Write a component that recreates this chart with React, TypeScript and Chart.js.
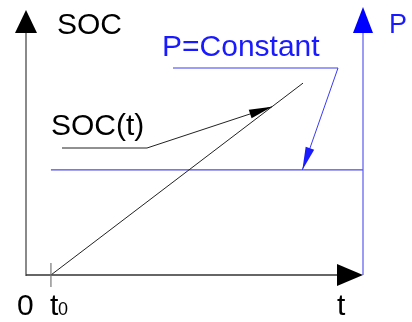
import React, { useEffect, useRef } from "react";
import { Chart, registerables } from "chart.js";

Chart.register(...registerables);

// Data (axis units 0..100)
const t0 = 7.4;
const socTime = [7.4, 82.2];
const socValues = [0, 71.6];
const powerTime = [7.4, 100];
const powerValues = [39.2, 39.2];
const socArrowTime = 73.0; // where SOC(t) label arrow points
const powerArrowTime = 82.0; // where P=Constant arrow points

const FONT = '"Liberation Sans", Arial, sans-serif';
const BLUE = "#1a1aff";

function arrowHead(ctx: CanvasRenderingContext2D, fx: number, fy: number, tx: number, ty: number, len: number, half: number, color: string) {
  const ang = Math.atan2(ty - fy, tx - fx);
  const bx = tx - len * Math.cos(ang);
  const by = ty - len * Math.sin(ang);
  const nx = -Math.sin(ang) * half;
  const ny = Math.cos(ang) * half;
  ctx.fillStyle = color;
  ctx.beginPath();
  ctx.moveTo(tx, ty);
  ctx.lineTo(bx + nx, by + ny);
  ctx.lineTo(bx - nx, by - ny);
  ctx.closePath();
  ctx.fill();
}

const annotate = {
  id: "annotate",
  afterDatasetsDraw(chart: any) {
    const ctx: CanvasRenderingContext2D = chart.ctx;
    const { left, right, top, bottom } = chart.chartArea;
    const xs = chart.scales.x;
    const ys = chart.scales.y;
    const y1 = chart.scales.y1;
    ctx.save();
    ctx.lineCap = "butt";

    // left axis (SOC)
    ctx.strokeStyle = "#8a8a8a";
    ctx.lineWidth = 2;
    ctx.beginPath();
    ctx.moveTo(left, bottom + 1);
    ctx.lineTo(left, top + 20);
    ctx.stroke();
    ctx.fillStyle = "#000";
    ctx.beginPath();
    ctx.moveTo(left, top + 3);
    ctx.lineTo(left - 11, top + 26);
    ctx.lineTo(left + 11, top + 26);
    ctx.closePath();
    ctx.fill();

    // right axis (P)
    ctx.strokeStyle = "#5a5af0";
    ctx.lineWidth = 1.2;
    ctx.beginPath();
    ctx.moveTo(right, bottom);
    ctx.lineTo(right, top + 20);
    ctx.stroke();
    ctx.fillStyle = "#0000ff";
    ctx.beginPath();
    ctx.moveTo(right, top);
    ctx.lineTo(right - 10, top + 26);
    ctx.lineTo(right + 10, top + 26);
    ctx.closePath();
    ctx.fill();

    // bottom axis (t)
    ctx.strokeStyle = "#333";
    ctx.lineWidth = 1.4;
    ctx.beginPath();
    ctx.moveTo(left, bottom);
    ctx.lineTo(right - 20, bottom);
    ctx.stroke();
    ctx.fillStyle = "#000";
    ctx.beginPath();
    ctx.moveTo(right, bottom);
    ctx.lineTo(right - 26, bottom - 11);
    ctx.lineTo(right - 26, bottom + 11);
    ctx.closePath();
    ctx.fill();

    // t0 tick
    const tx0 = xs.getPixelForValue(t0);
    ctx.strokeStyle = "#777";
    ctx.lineWidth = 1.2;
    ctx.beginPath();
    ctx.moveTo(tx0, bottom - 12);
    ctx.lineTo(tx0, bottom + 12);
    ctx.stroke();

    // SOC(t) leader
    const sx = xs.getPixelForValue(socArrowTime);
    const sy = ys.getPixelForValue(
      socValues[0] + ((socArrowTime - socTime[0]) / (socTime[1] - socTime[0])) * (socValues[1] - socValues[0])
    );
    ctx.strokeStyle = "#222";
    ctx.lineWidth = 1;
    ctx.beginPath();
    ctx.moveTo(62, 148);
    ctx.lineTo(147, 148);
    ctx.lineTo(sx, sy);
    ctx.stroke();
    arrowHead(ctx, 147, 148, sx, sy, 23, 4.5, "#000");

    // P=Constant leader
    const px = xs.getPixelForValue(powerArrowTime);
    const py = y1.getPixelForValue(powerValues[0]);
    ctx.strokeStyle = "#3a3af5";
    ctx.lineWidth = 1;
    ctx.beginPath();
    ctx.moveTo(173, 68);
    ctx.lineTo(338, 68);
    ctx.lineTo(px, py);
    ctx.stroke();
    arrowHead(ctx, 338, 68, px, py, 23, 4.5, "#1a1aff");

    // texts
    ctx.textBaseline = "alphabetic";
    ctx.textAlign = "left";
    ctx.fillStyle = "#000";
    ctx.font = `30px ${FONT}`;
    ctx.fillText("SOC", 57, 34);
    ctx.fillText("SOC(t)", 51, 135);
    ctx.fillText("0", 17, 315);
    ctx.fillText("t", 337, 315);
    ctx.fillText("t", tx0 - 1, 315);
    ctx.font = `18px ${FONT}`;
    ctx.fillText("0", tx0 + 7, 315);
    ctx.fillStyle = BLUE;
    ctx.font = `30px ${FONT}`;
    ctx.fillText("P=Constant", 162, 56);
    ctx.font = `27px ${FONT}`;
    ctx.fillText("P", 389, 33);
    ctx.restore();
  },
};

const bg = {
  id: "bg",
  beforeDraw(chart: any) {
    const ctx = chart.ctx;
    ctx.save();
    ctx.fillStyle = "#fff";
    ctx.fillRect(0, 0, chart.width, chart.height);
    ctx.restore();
  },
};

export default function App() {
  const ref = useRef<HTMLCanvasElement>(null);
  useEffect(() => {
    if (!ref.current) return;
    const chart = new Chart(ref.current, {
      type: "line",
      data: {
        datasets: [
          {
            label: "SOC",
            data: socTime.map((t, i) => ({ x: t, y: socValues[i] })),
            borderColor: "#222",
            borderWidth: 1,
            pointRadius: 0,
            yAxisID: "y",
          },
          {
            label: "P",
            data: powerTime.map((t, i) => ({ x: t, y: powerValues[i] })),
            borderColor: "#4a4ae8",
            borderWidth: 1.3,
            pointRadius: 0,
            yAxisID: "y1",
          },
        ],
      },
      options: {
        responsive: false,
        animation: false,
        events: [],
        layout: { padding: { left: 26, right: 49, top: 7, bottom: 47 } },
        plugins: { legend: { display: false }, tooltip: { enabled: false } },
        scales: {
          x: { type: "linear", min: 0, max: 100, display: false },
          y: { type: "linear", min: 0, max: 100, display: false },
          y1: { type: "linear", min: 0, max: 100, display: false, position: "right" },
        },
      },
      plugins: [bg, annotate],
    });
    return () => chart.destroy();
  }, []);
  return (
    <canvas
      ref={ref}
      width={412}
      height={322}
      style={{ position: "absolute", left: 0, top: 0, display: "block" }}
    />
  );
}
